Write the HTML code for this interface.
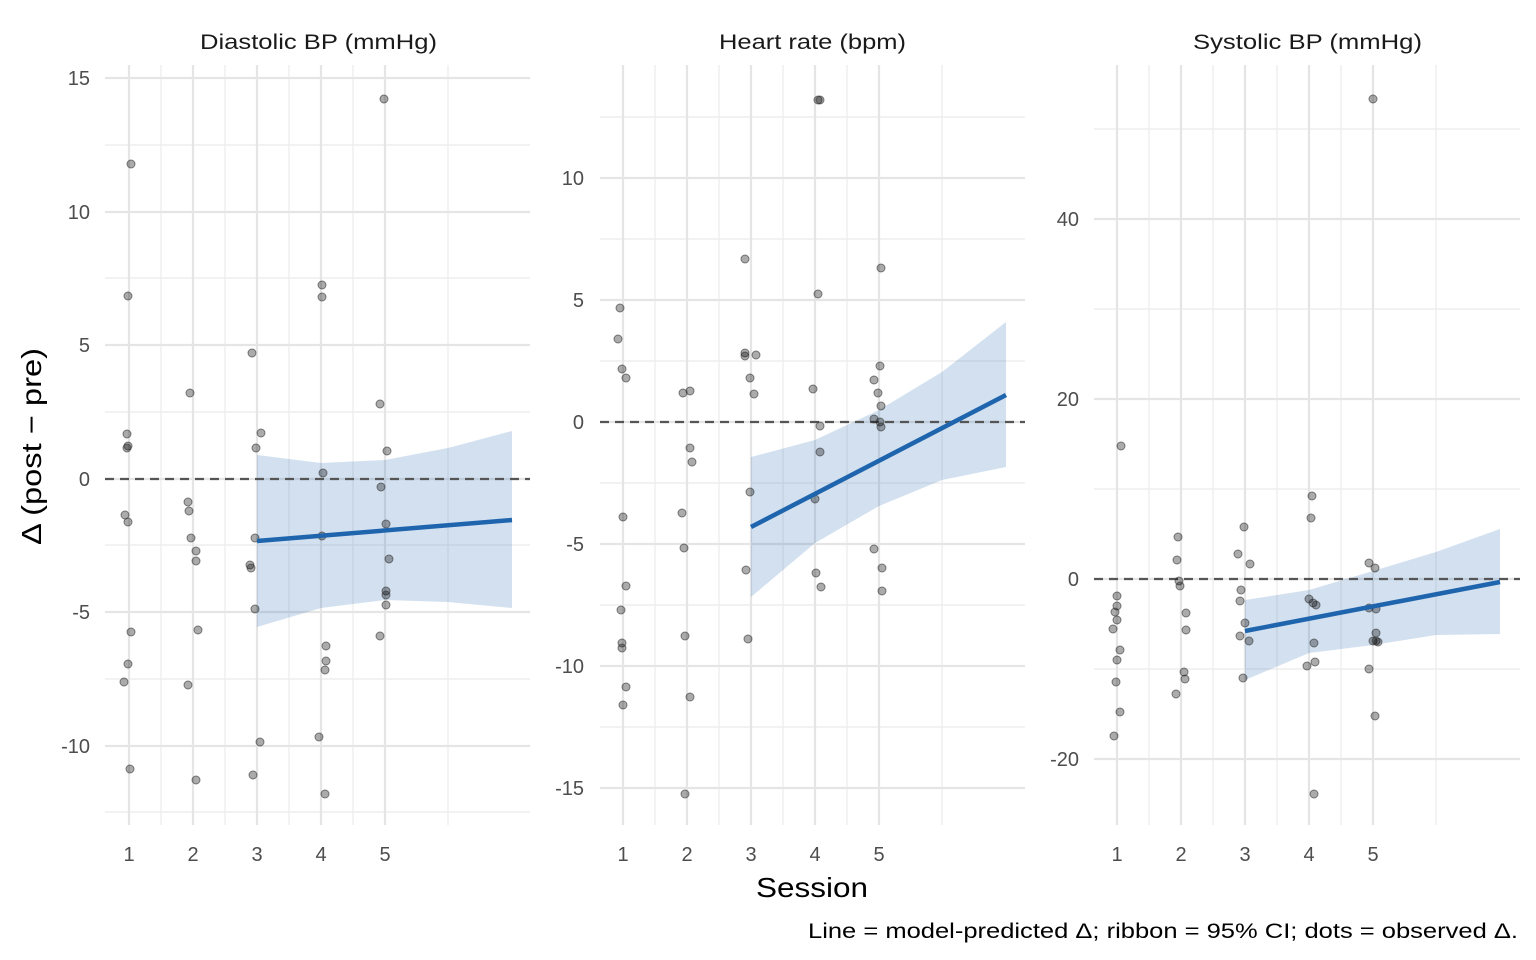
<!DOCTYPE html>
<html><head><meta charset="utf-8"><style>body{margin:0;background:#fff}svg{display:block}text{font-family:"Liberation Sans",sans-serif}</style></head><body>
<svg width="1536" height="960" xmlns="http://www.w3.org/2000/svg">
<g stroke="#ebebeb" stroke-width="1.2">
<line x1="105" x2="530" y1="145" y2="145"/><line x1="105" x2="530" y1="278" y2="278"/><line x1="105" x2="530" y1="412" y2="412"/><line x1="105" x2="530" y1="545" y2="545"/><line x1="105" x2="530" y1="679" y2="679"/><line x1="105" x2="530" y1="812" y2="812"/>
<line x1="161" x2="161" y1="65" y2="825"/><line x1="225" x2="225" y1="65" y2="825"/><line x1="289" x2="289" y1="65" y2="825"/><line x1="353" x2="353" y1="65" y2="825"/><line x1="448" x2="448" y1="65" y2="825"/>
<line x1="600" x2="1025" y1="117" y2="117"/><line x1="600" x2="1025" y1="239" y2="239"/><line x1="600" x2="1025" y1="361" y2="361"/><line x1="600" x2="1025" y1="483" y2="483"/><line x1="600" x2="1025" y1="605" y2="605"/><line x1="600" x2="1025" y1="727" y2="727"/>
<line x1="655" x2="655" y1="65" y2="825"/><line x1="719" x2="719" y1="65" y2="825"/><line x1="783" x2="783" y1="65" y2="825"/><line x1="847" x2="847" y1="65" y2="825"/><line x1="942" x2="942" y1="65" y2="825"/>
<line x1="1094" x2="1520" y1="129" y2="129"/><line x1="1094" x2="1520" y1="309" y2="309"/><line x1="1094" x2="1520" y1="489" y2="489"/><line x1="1094" x2="1520" y1="669" y2="669"/>
<line x1="1149" x2="1149" y1="65" y2="825"/><line x1="1213" x2="1213" y1="65" y2="825"/><line x1="1277" x2="1277" y1="65" y2="825"/><line x1="1341" x2="1341" y1="65" y2="825"/><line x1="1436" x2="1436" y1="65" y2="825"/>
</g>
<g stroke="#e5e5e5" stroke-width="2.2">
<line x1="105" x2="530" y1="78" y2="78"/><line x1="105" x2="530" y1="212" y2="212"/><line x1="105" x2="530" y1="345" y2="345"/><line x1="105" x2="530" y1="479" y2="479"/><line x1="105" x2="530" y1="612" y2="612"/><line x1="105" x2="530" y1="746" y2="746"/>
<line x1="129" x2="129" y1="65" y2="825"/><line x1="193" x2="193" y1="65" y2="825"/><line x1="257" x2="257" y1="65" y2="825"/><line x1="321" x2="321" y1="65" y2="825"/><line x1="385" x2="385" y1="65" y2="825"/>
<line x1="600" x2="1025" y1="178" y2="178"/><line x1="600" x2="1025" y1="300" y2="300"/><line x1="600" x2="1025" y1="422" y2="422"/><line x1="600" x2="1025" y1="544" y2="544"/><line x1="600" x2="1025" y1="666" y2="666"/><line x1="600" x2="1025" y1="788" y2="788"/>
<line x1="623" x2="623" y1="65" y2="825"/><line x1="687" x2="687" y1="65" y2="825"/><line x1="751" x2="751" y1="65" y2="825"/><line x1="815" x2="815" y1="65" y2="825"/><line x1="879" x2="879" y1="65" y2="825"/>
<line x1="1094" x2="1520" y1="219" y2="219"/><line x1="1094" x2="1520" y1="399" y2="399"/><line x1="1094" x2="1520" y1="579" y2="579"/><line x1="1094" x2="1520" y1="759" y2="759"/>
<line x1="1117" x2="1117" y1="65" y2="825"/><line x1="1181" x2="1181" y1="65" y2="825"/><line x1="1245" x2="1245" y1="65" y2="825"/><line x1="1309" x2="1309" y1="65" y2="825"/><line x1="1373" x2="1373" y1="65" y2="825"/>
</g>
<g fill="#1f65ad" fill-opacity="0.2">
<polygon points="257,455 321,463 385,460 448,448 512,431 512,608 448,602 385,600 321,608 257,627"/>
<polygon points="751,457 815,440 879,410 942,372 1006,322 1006,467 942,480 879,506 815,543 751,597"/>
<polygon points="1245,600 1309,590 1373,571 1436,552 1500,529 1500,634 1436,635 1373,645 1309,653 1245,680"/>
</g>
<g stroke="#555" stroke-width="2.2" stroke-dasharray="9,6">
<line x1="105" x2="530" y1="479" y2="479"/><line x1="600" x2="1025" y1="422" y2="422"/><line x1="1094" x2="1520" y1="579" y2="579"/>
</g>
<g fill="#000" fill-opacity="0.33" stroke="#333" stroke-opacity="0.6" stroke-width="1">
<circle cx="131" cy="164" r="4"/><circle cx="128" cy="296" r="4"/><circle cx="127" cy="434" r="4"/><circle cx="128" cy="446" r="4"/><circle cx="127" cy="448" r="4"/><circle cx="125" cy="515" r="4"/><circle cx="128" cy="522" r="4"/><circle cx="131" cy="632" r="4"/><circle cx="128" cy="664" r="4"/><circle cx="124" cy="682" r="4"/><circle cx="130" cy="769" r="4"/><circle cx="190" cy="393" r="4"/><circle cx="188" cy="502" r="4"/><circle cx="189" cy="511" r="4"/><circle cx="191" cy="538" r="4"/><circle cx="196" cy="551" r="4"/><circle cx="196" cy="561" r="4"/><circle cx="198" cy="630" r="4"/><circle cx="188" cy="685" r="4"/><circle cx="196" cy="780" r="4"/><circle cx="252" cy="353" r="4"/><circle cx="261" cy="433" r="4"/><circle cx="256" cy="448" r="4"/><circle cx="255" cy="538" r="4"/><circle cx="250" cy="565" r="4"/><circle cx="251" cy="568" r="4"/><circle cx="255" cy="609" r="4"/><circle cx="260" cy="742" r="4"/><circle cx="253" cy="775" r="4"/><circle cx="322" cy="285" r="4"/><circle cx="322" cy="297" r="4"/><circle cx="323" cy="473" r="4"/><circle cx="322" cy="536" r="4"/><circle cx="326" cy="646" r="4"/><circle cx="326" cy="661" r="4"/><circle cx="325" cy="670" r="4"/><circle cx="319" cy="737" r="4"/><circle cx="325" cy="794" r="4"/><circle cx="384" cy="99" r="4"/><circle cx="380" cy="404" r="4"/><circle cx="387" cy="451" r="4"/><circle cx="381" cy="487" r="4"/><circle cx="386" cy="524" r="4"/><circle cx="389" cy="559" r="4"/><circle cx="386" cy="591" r="4"/><circle cx="386" cy="595" r="4"/><circle cx="386" cy="605" r="4"/><circle cx="380" cy="636" r="4"/>
<circle cx="620" cy="308" r="4"/><circle cx="618" cy="339" r="4"/><circle cx="622" cy="369" r="4"/><circle cx="626" cy="378" r="4"/><circle cx="623" cy="517" r="4"/><circle cx="626" cy="586" r="4"/><circle cx="621" cy="610" r="4"/><circle cx="622" cy="643" r="4"/><circle cx="622" cy="648" r="4"/><circle cx="626" cy="687" r="4"/><circle cx="623" cy="705" r="4"/><circle cx="683" cy="393" r="4"/><circle cx="690" cy="391" r="4"/><circle cx="690" cy="448" r="4"/><circle cx="692" cy="462" r="4"/><circle cx="682" cy="513" r="4"/><circle cx="684" cy="548" r="4"/><circle cx="685" cy="636" r="4"/><circle cx="690" cy="697" r="4"/><circle cx="685" cy="794" r="4"/><circle cx="745" cy="259" r="4"/><circle cx="745" cy="353" r="4"/><circle cx="745" cy="356" r="4"/><circle cx="756" cy="355" r="4"/><circle cx="750" cy="378" r="4"/><circle cx="754" cy="394" r="4"/><circle cx="750" cy="492" r="4"/><circle cx="746" cy="570" r="4"/><circle cx="748" cy="639" r="4"/><circle cx="818" cy="100" r="4"/><circle cx="820" cy="100" r="4"/><circle cx="818" cy="294" r="4"/><circle cx="813" cy="389" r="4"/><circle cx="820" cy="426" r="4"/><circle cx="820" cy="452" r="4"/><circle cx="815" cy="499" r="4"/><circle cx="816" cy="573" r="4"/><circle cx="821" cy="587" r="4"/><circle cx="881" cy="268" r="4"/><circle cx="880" cy="366" r="4"/><circle cx="874" cy="380" r="4"/><circle cx="878" cy="393" r="4"/><circle cx="881" cy="406" r="4"/><circle cx="874" cy="419" r="4"/><circle cx="880" cy="422" r="4"/><circle cx="881" cy="427" r="4"/><circle cx="874" cy="549" r="4"/><circle cx="882" cy="568" r="4"/><circle cx="882" cy="591" r="4"/>
<circle cx="1121" cy="446" r="4"/><circle cx="1117" cy="596" r="4"/><circle cx="1117" cy="606" r="4"/><circle cx="1115" cy="612" r="4"/><circle cx="1117" cy="620" r="4"/><circle cx="1113" cy="629" r="4"/><circle cx="1120" cy="650" r="4"/><circle cx="1117" cy="660" r="4"/><circle cx="1116" cy="682" r="4"/><circle cx="1120" cy="712" r="4"/><circle cx="1114" cy="736" r="4"/><circle cx="1178" cy="537" r="4"/><circle cx="1177" cy="560" r="4"/><circle cx="1179" cy="581" r="4"/><circle cx="1180" cy="586" r="4"/><circle cx="1186" cy="613" r="4"/><circle cx="1186" cy="630" r="4"/><circle cx="1184" cy="672" r="4"/><circle cx="1185" cy="679" r="4"/><circle cx="1176" cy="694" r="4"/><circle cx="1244" cy="527" r="4"/><circle cx="1238" cy="554" r="4"/><circle cx="1250" cy="564" r="4"/><circle cx="1241" cy="590" r="4"/><circle cx="1240" cy="601" r="4"/><circle cx="1245" cy="623" r="4"/><circle cx="1240" cy="636" r="4"/><circle cx="1249" cy="641" r="4"/><circle cx="1243" cy="678" r="4"/><circle cx="1312" cy="496" r="4"/><circle cx="1311" cy="518" r="4"/><circle cx="1309" cy="599" r="4"/><circle cx="1313" cy="603" r="4"/><circle cx="1316" cy="605" r="4"/><circle cx="1314" cy="643" r="4"/><circle cx="1315" cy="662" r="4"/><circle cx="1307" cy="666" r="4"/><circle cx="1314" cy="794" r="4"/><circle cx="1373" cy="99" r="4"/><circle cx="1369" cy="563" r="4"/><circle cx="1375" cy="568" r="4"/><circle cx="1369" cy="608" r="4"/><circle cx="1376" cy="609" r="4"/><circle cx="1376" cy="633" r="4"/><circle cx="1373" cy="641" r="4"/><circle cx="1376" cy="641" r="4"/><circle cx="1378" cy="642" r="4"/><circle cx="1369" cy="669" r="4"/><circle cx="1375" cy="716" r="4"/>
</g>
<g stroke="#1f65ad" stroke-width="4.5">
<line x1="257" y1="541" x2="512" y2="520"/><line x1="751" y1="527" x2="1006" y2="395"/><line x1="1245" y1="631" x2="1500" y2="582"/>
</g>
<g font-size="21" fill="#1a1a1a" lengthAdjust="spacingAndGlyphs">
<text x="200" y="49" textLength="237" lengthAdjust="spacingAndGlyphs">Diastolic BP (mmHg)</text><text x="719" y="49" textLength="187" lengthAdjust="spacingAndGlyphs">Heart rate (bpm)</text><text x="1193" y="49" textLength="229" lengthAdjust="spacingAndGlyphs">Systolic BP (mmHg)</text>
</g>
<g font-size="20" fill="#4d4d4d" text-anchor="end">
<text x="90" y="85">15</text><text x="90" y="219">10</text><text x="90" y="352">5</text><text x="90" y="486">0</text><text x="90" y="619">-5</text><text x="90" y="753">-10</text>
<text x="584" y="185">10</text><text x="584" y="307">5</text><text x="584" y="429">0</text><text x="584" y="551">-5</text><text x="584" y="673">-10</text><text x="584" y="795">-15</text>
<text x="1079" y="226">40</text><text x="1079" y="406">20</text><text x="1079" y="586">0</text><text x="1079" y="766">-20</text>
</g>
<g font-size="20" fill="#4d4d4d" text-anchor="middle">
<text x="129" y="861">1</text><text x="193" y="861">2</text><text x="257" y="861">3</text><text x="321" y="861">4</text><text x="385" y="861">5</text>
<text x="623" y="861">1</text><text x="687" y="861">2</text><text x="751" y="861">3</text><text x="815" y="861">4</text><text x="879" y="861">5</text>
<text x="1117" y="861">1</text><text x="1181" y="861">2</text><text x="1245" y="861">3</text><text x="1309" y="861">4</text><text x="1373" y="861">5</text>
</g>
<text x="756" y="897" font-size="28" fill="#000" textLength="112" lengthAdjust="spacingAndGlyphs">Session</text>
<text transform="translate(41,545) rotate(-90)" font-size="28" fill="#000" textLength="197" lengthAdjust="spacingAndGlyphs">Δ (post − pre)</text>
<text x="808" y="938" font-size="21" fill="#000" textLength="710" lengthAdjust="spacingAndGlyphs">Line = model-predicted Δ; ribbon = 95% CI; dots = observed Δ.</text>
</svg>
</body></html>
